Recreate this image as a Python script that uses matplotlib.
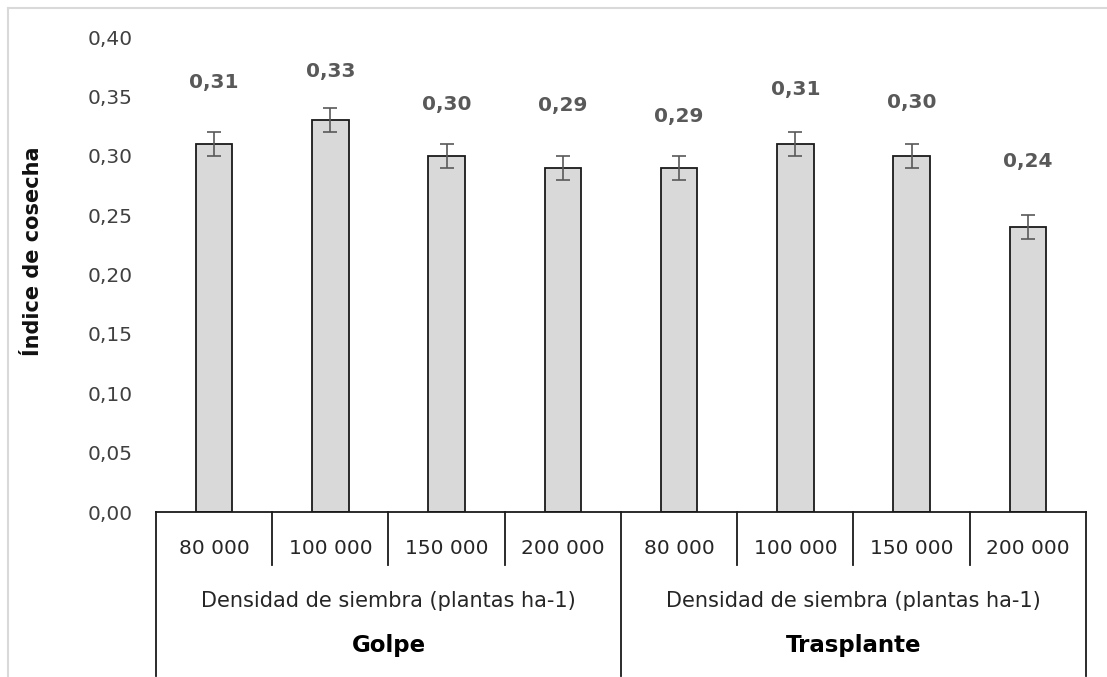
import matplotlib.pyplot as plt
import matplotlib.transforms as mtransforms
from matplotlib.lines import Line2D
import numpy as np

plt.rcParams['font.family'] = ['DejaVu Sans']

# datos
densidades = ['80 000', '100 000', '150 000', '200 000',
              '80 000', '100 000', '150 000', '200 000']
grupos = ['Golpe', 'Trasplante']
subtitulo = 'Densidad de siembra (plantas ha-1)'
indice = [0.31, 0.33, 0.30, 0.29, 0.29, 0.31, 0.30, 0.24]
error = [0.01, 0.01, 0.01, 0.01, 0.01, 0.01, 0.01, 0.01]

# desplazamiento de cada etiqueta sobre la barra (puntos)
label_dy = [44, 35, 37, 45, 37, 39, 38, 47.5]

fig = plt.figure(figsize=(11.07, 6.77), dpi=100)
ax = fig.add_axes([0.1409, 0.2437, 0.8401, 0.7016])

x = np.arange(len(indice))
ax.bar(x, indice, width=0.315, color='#d9d9d9', edgecolor='#1a1a1a', linewidth=1.3, zorder=2)
ax.errorbar(x, indice, yerr=error, fmt='none', ecolor='#595959', elinewidth=1.2,
            capsize=5, capthick=1.2, zorder=3)

for xi, v, dy in zip(x, indice, label_dy):
    ax.annotate(f'{v:.2f}'.replace('.', ','), (xi, v), xytext=(0, dy),
                textcoords='offset points', ha='center', va='center',
                fontsize=14.5, fontweight='bold', color='#595959')

ax.set_xlim(-0.5, 7.5)
ax.set_ylim(0, 0.40)
yt = np.arange(0, 0.401, 0.05)
ax.set_yticks(yt)
ax.set_yticklabels([f'{t:.2f}'.replace('.', ',') for t in yt], fontsize=14.5, color='#404040')
ax.tick_params(axis='y', length=0, pad=17)
ax.set_xticks([])
for s in ax.spines.values():
    s.set_visible(False)
ax.set_ylabel('Índice de cosecha', fontsize=15, fontweight='bold', color='#111111')
ax.yaxis.set_label_coords(-0.121, 0.55)

# eje de categorías en varios niveles
trans = mtransforms.blended_transform_factory(ax.transData, ax.transAxes)
ax.plot([-0.5, 7.5], [0, 0], color='#1a1a1a', lw=1.3, transform=trans, clip_on=False)
for b in np.arange(-0.5, 8, 1.0):
    largo = 0.345 if b in (-0.5, 3.5, 7.5) else 0.1116
    ax.plot([b, b], [0, -largo], color='#1a1a1a', lw=1.3, transform=trans, clip_on=False)
for xi, lab in zip(x, densidades):
    ax.text(xi, -0.0758, lab, ha='center', va='center', fontsize=14.5, color='#262626',
            transform=trans)
for g, nombre in enumerate(grupos):
    cx = g * 4 + 1.5
    ax.text(cx, -0.1874, subtitulo, ha='center', va='center', fontsize=15, color='#262626',
            transform=trans)
    ax.text(cx, -0.282, nombre, ha='center', va='center', fontsize=16.5, fontweight='bold',
            color='#000000', transform=trans)

# marco del gráfico (bordes superior e izquierdo)
x0, y0 = 7.5 / 1107, 1 - 7.5 / 677
fig.add_artist(Line2D([x0, 1], [y0, y0], transform=fig.transFigure, color='#d9d9d9', lw=1.5))
fig.add_artist(Line2D([x0, x0], [0, y0], transform=fig.transFigure, color='#d9d9d9', lw=1.5))

fig.savefig('out.png', dpi=100)
